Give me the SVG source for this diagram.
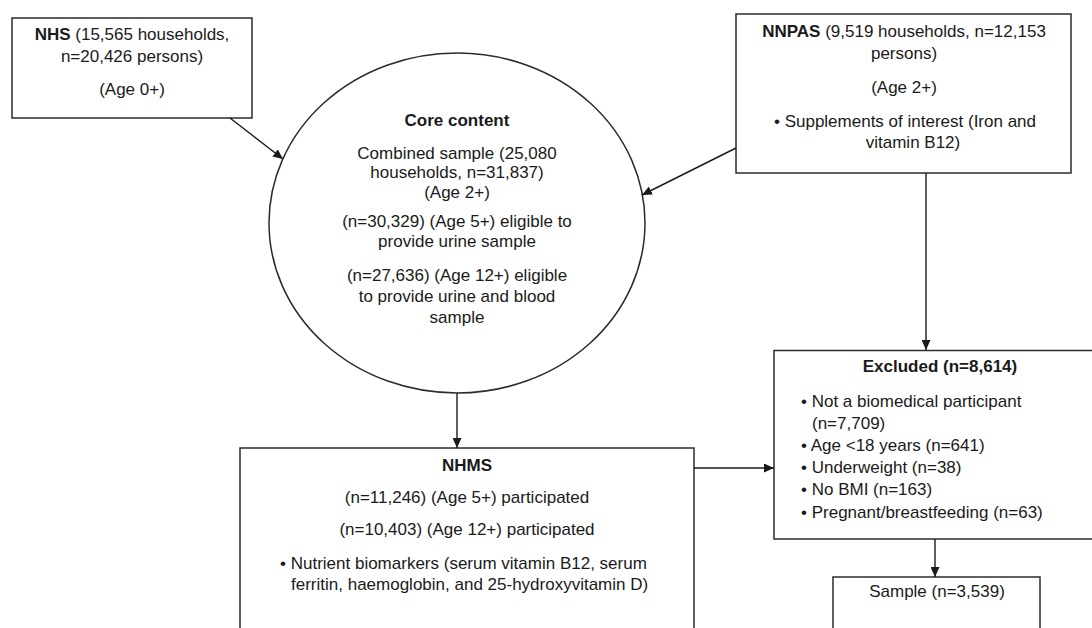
<svg xmlns="http://www.w3.org/2000/svg" width="1092" height="628" viewBox="0 0 1092 628">
  <style>
    .box { fill: #ffffff; stroke: #2b2b2b; stroke-width: 1.5; }
    .t { font-family: "Liberation Sans", Arial, Helvetica, sans-serif; font-size: 17px; fill: #1a1a1a; }
    .c { text-anchor: middle; }
    .b { font-weight: bold; }
    .edge { stroke: #1a1a1a; stroke-width: 1.4; fill: none; marker-end: url(#arr); }
  </style>
  <defs>
    <marker id="arr" markerUnits="userSpaceOnUse" markerWidth="10" markerHeight="9" refX="10" refY="4.5" orient="auto">
      <path d="M0,0 L10,4.5 L0,9 z" fill="#1a1a1a"/>
    </marker>
  </defs>
  <rect width="1092" height="628" fill="#ffffff"/>

  <g id="nhs">
    <rect class="box" x="12" y="18" width="240" height="100"/>
    <text class="t c" x="132" y="40"><tspan class="b">NHS</tspan> (15,565 households,</text>
    <text class="t c" x="132" y="62">n=20,426 persons)</text>
    <text class="t c" x="132" y="95">(Age 0+)</text>
  </g>

  <g id="nnpas">
    <rect class="box" x="736" y="14" width="335" height="159"/>
    <text class="t c" x="904" y="37"><tspan class="b">NNPAS</tspan> (9,519 households, n=12,153</text>
    <text class="t c" x="904" y="59">persons)</text>
    <text class="t c" x="904" y="93">(Age 2+)</text>
    <text class="t c" x="905" y="127">• Supplements of interest (Iron and</text>
    <text class="t c" x="913" y="148">vitamin B12)</text>
  </g>

  <g id="core">
    <ellipse class="box" cx="457" cy="223" rx="188" ry="170"/>
    <text class="t c b" x="457" y="126">Core content</text>
    <text class="t c" x="457" y="159">Combined sample (25,080</text>
    <text class="t c" x="457" y="178">households, n=31,837)</text>
    <text class="t c" x="457" y="198">(Age 2+)</text>
    <text class="t c" x="457" y="227">(n=30,329) (Age 5+) eligible to</text>
    <text class="t c" x="457" y="247">provide urine sample</text>
    <text class="t c" x="457" y="281">(n=27,636) (Age 12+) eligible</text>
    <text class="t c" x="457" y="302">to provide urine and blood</text>
    <text class="t c" x="457" y="323">sample</text>
  </g>

  <g id="nhms">
    <rect class="box" x="240" y="448" width="454" height="200"/>
    <text class="t c b" x="467" y="471">NHMS</text>
    <text class="t c" x="467" y="503">(n=11,246) (Age 5+) participated</text>
    <text class="t c" x="467" y="535">(n=10,403) (Age 12+) participated</text>
    <text class="t" x="280" y="569">• Nutrient biomarkers (serum vitamin B12, serum</text>
    <text class="t" x="291" y="590">ferritin, haemoglobin, and 25-hydroxyvitamin D)</text>
  </g>

  <g id="excluded">
    <rect class="box" x="774" y="350.5" width="340" height="188.5"/>
    <text class="t c b" x="940" y="372">Excluded (n=8,614)</text>
    <text class="t" x="801" y="407">• Not a biomedical participant</text>
    <text class="t" x="812" y="429">(n=7,709)</text>
    <text class="t" x="801" y="451">• Age &lt;18 years (n=641)</text>
    <text class="t" x="801" y="473">• Underweight (n=38)</text>
    <text class="t" x="801" y="495">• No BMI (n=163)</text>
    <text class="t" x="801" y="518">• Pregnant/breastfeeding (n=63)</text>
  </g>

  <g id="sample">
    <rect class="box" x="833" y="577" width="207" height="70"/>
    <text class="t c" x="937" y="597">Sample (n=3,539)</text>
  </g>

  <g id="connectors">
    <line class="edge" x1="230" y1="118" x2="283" y2="159"/>
    <line class="edge" x1="736" y1="148" x2="642" y2="195"/>
    <line class="edge" x1="457" y1="393" x2="457" y2="448"/>
    <line class="edge" x1="926" y1="173" x2="926" y2="350"/>
    <line class="edge" x1="694" y1="468" x2="774" y2="468"/>
    <line class="edge" x1="935" y1="539" x2="935" y2="577"/>
  </g>
</svg>
